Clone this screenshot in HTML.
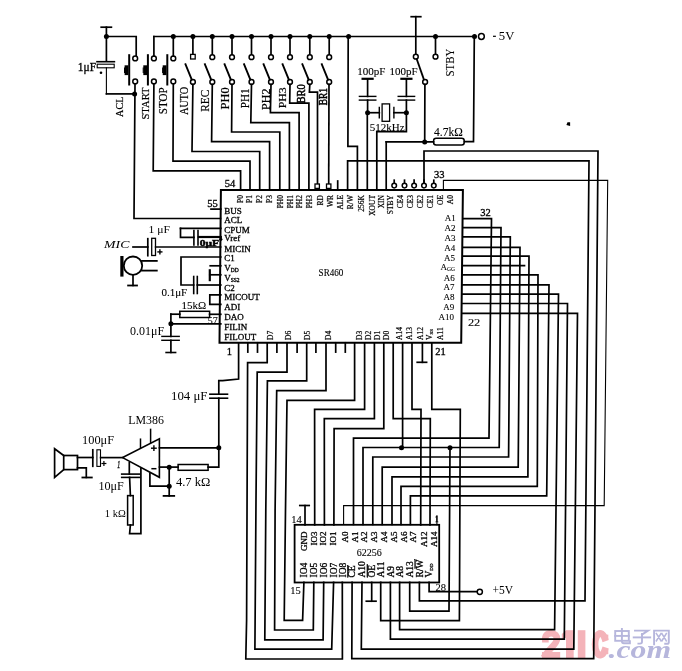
<!DOCTYPE html>
<html><head><meta charset="utf-8"><title>circuit</title>
<style>
html,body{margin:0;padding:0;background:#fff;}
body{width:682px;height:671px;overflow:hidden;}
svg{display:block;}
</style></head><body>
<svg width="682" height="671" viewBox="0 0 682 671">
<rect x="0" y="0" width="682" height="671" fill="#fff"/>
<g fill="none" stroke="#000" stroke-linecap="square" stroke-linejoin="miter">
<line x1="101.2" y1="27.2" x2="111.4" y2="27.2" stroke-width="1.7"/>
<line x1="106.4" y1="27.2" x2="106.4" y2="61.1" stroke-width="1.7"/>
<circle cx="106.4" cy="36.5" r="2.5" fill="#000" stroke="none"/>
<polyline points="106.4,36.5 136.2,36.5 136.2,56" stroke-width="1.7"/>
<line x1="97" y1="61.7" x2="114.4" y2="61.7" stroke-width="1.6"/>
<rect x="97.2" y="64.2" width="17" height="3.6" rx="0" fill="none" stroke-width="1.1"/>
<circle cx="101" cy="72.7" r="1.3" fill="#000" stroke="none"/>
<line x1="106.4" y1="67.8" x2="106.4" y2="93.9" stroke-width="1.1"/>
<line x1="106.4" y1="93.9" x2="134.6" y2="93.9" stroke-width="1.7"/>
<circle cx="134.6" cy="93.9" r="2.5" fill="#000" stroke="none"/>
<text x="77.8" y="71" font-size="11.5" text-anchor="start" font-family="Liberation Serif" fill="#000" stroke="#000" stroke-width="0.3" >1μF</text>
<circle cx="135.2" cy="58.4" r="2.4" fill="#fff" stroke-width="1.5"/>
<circle cx="135.2" cy="81.4" r="2.4" fill="#fff" stroke-width="1.5"/>
<line x1="129.2" y1="55.2" x2="129.2" y2="84.5" stroke-width="2"/>
<rect x="124.6" y="65.3" width="3.8" height="9.8" fill="#000" stroke="none"/>
<rect x="124" y="67.5" width="1" height="5.5" fill="#000" stroke="none"/>
<circle cx="153.9" cy="58.4" r="2.4" fill="#fff" stroke-width="1.5"/>
<circle cx="153.9" cy="81.4" r="2.4" fill="#fff" stroke-width="1.5"/>
<line x1="147.9" y1="55.2" x2="147.9" y2="84.5" stroke-width="2"/>
<rect x="143.3" y="65.3" width="3.8" height="9.8" fill="#000" stroke="none"/>
<rect x="142.7" y="67.5" width="1" height="5.5" fill="#000" stroke="none"/>
<circle cx="173.3" cy="58.4" r="2.4" fill="#fff" stroke-width="1.5"/>
<circle cx="173.3" cy="81.4" r="2.4" fill="#fff" stroke-width="1.5"/>
<line x1="167.3" y1="55.2" x2="167.3" y2="84.5" stroke-width="2"/>
<rect x="162.7" y="65.3" width="3.8" height="9.8" fill="#000" stroke="none"/>
<rect x="162.1" y="67.5" width="1" height="5.5" fill="#000" stroke="none"/>
<line x1="153.9" y1="36.5" x2="474.5" y2="36.5" stroke-width="1.7"/>
<line x1="153.9" y1="36.5" x2="153.9" y2="56" stroke-width="1.7"/>
<circle cx="173.3" cy="36.5" r="2.5" fill="#000" stroke="none"/>
<line x1="173.3" y1="36.5" x2="173.3" y2="56" stroke-width="1.7"/>
<circle cx="192.9" cy="36.5" r="2.5" fill="#000" stroke="none"/>
<line x1="192.9" y1="36.5" x2="192.9" y2="54.3" stroke-width="1.7"/>
<rect x="190.6" y="54.4" width="4.6" height="4.6" rx="0" fill="#fff" stroke-width="1.3"/>
<circle cx="192.9" cy="82" r="2.4" fill="#fff" stroke-width="1.5"/>
<line x1="185.5" y1="64.3" x2="191.7" y2="79.6" stroke-width="1.9"/>
<circle cx="212.3" cy="36.5" r="2.5" fill="#000" stroke="none"/>
<line x1="212.3" y1="36.5" x2="212.3" y2="54.3" stroke-width="1.7"/>
<circle cx="212.3" cy="57.2" r="2.4" fill="#fff" stroke-width="1.5"/>
<circle cx="212.3" cy="82" r="2.4" fill="#fff" stroke-width="1.5"/>
<line x1="204.9" y1="64.3" x2="211.1" y2="79.6" stroke-width="1.9"/>
<circle cx="232" cy="36.5" r="2.5" fill="#000" stroke="none"/>
<line x1="232" y1="36.5" x2="232" y2="54.3" stroke-width="1.7"/>
<circle cx="232" cy="57.2" r="2.4" fill="#fff" stroke-width="1.5"/>
<circle cx="232" cy="82" r="2.4" fill="#fff" stroke-width="1.5"/>
<line x1="224.6" y1="64.3" x2="230.8" y2="79.6" stroke-width="1.9"/>
<circle cx="251.5" cy="36.5" r="2.5" fill="#000" stroke="none"/>
<line x1="251.5" y1="36.5" x2="251.5" y2="54.3" stroke-width="1.7"/>
<circle cx="251.5" cy="57.2" r="2.4" fill="#fff" stroke-width="1.5"/>
<circle cx="251.5" cy="82" r="2.4" fill="#fff" stroke-width="1.5"/>
<line x1="244.1" y1="64.3" x2="250.3" y2="79.6" stroke-width="1.9"/>
<circle cx="271" cy="36.5" r="2.5" fill="#000" stroke="none"/>
<line x1="271" y1="36.5" x2="271" y2="54.3" stroke-width="1.7"/>
<circle cx="271" cy="57.2" r="2.4" fill="#fff" stroke-width="1.5"/>
<circle cx="271" cy="82" r="2.4" fill="#fff" stroke-width="1.5"/>
<line x1="263.6" y1="64.3" x2="269.8" y2="79.6" stroke-width="1.9"/>
<circle cx="290" cy="36.5" r="2.5" fill="#000" stroke="none"/>
<line x1="290" y1="36.5" x2="290" y2="54.3" stroke-width="1.7"/>
<circle cx="290" cy="57.2" r="2.4" fill="#fff" stroke-width="1.5"/>
<circle cx="290" cy="82" r="2.4" fill="#fff" stroke-width="1.5"/>
<line x1="282.6" y1="64.3" x2="288.8" y2="79.6" stroke-width="1.9"/>
<circle cx="309.8" cy="36.5" r="2.5" fill="#000" stroke="none"/>
<line x1="309.8" y1="36.5" x2="309.8" y2="54.3" stroke-width="1.7"/>
<circle cx="309.8" cy="57.2" r="2.4" fill="#fff" stroke-width="1.5"/>
<circle cx="309.8" cy="82" r="2.4" fill="#fff" stroke-width="1.5"/>
<line x1="302.4" y1="64.3" x2="308.6" y2="79.6" stroke-width="1.9"/>
<circle cx="329.2" cy="36.5" r="2.5" fill="#000" stroke="none"/>
<line x1="329.2" y1="36.5" x2="329.2" y2="54.3" stroke-width="1.7"/>
<circle cx="329.2" cy="57.2" r="2.4" fill="#fff" stroke-width="1.5"/>
<circle cx="329.2" cy="82" r="2.4" fill="#fff" stroke-width="1.5"/>
<line x1="321.8" y1="64.3" x2="328" y2="79.6" stroke-width="1.9"/>
<text x="123.3" y="116.9" font-size="10.6" font-family="Liberation Serif" fill="#000" stroke="#000" stroke-width="0.2" textLength="20.3" lengthAdjust="spacingAndGlyphs" transform="rotate(-90 123.3 116.9)" >ACL</text>
<text x="148.7" y="119.6" font-size="11.4" font-family="Liberation Serif" fill="#000" stroke="#000" stroke-width="0.2" textLength="32.2" lengthAdjust="spacingAndGlyphs" transform="rotate(-90 148.7 119.6)" >START</text>
<text x="167.2" y="114.2" font-size="12.4" font-family="Liberation Serif" fill="#000" stroke="#000" stroke-width="0.2" textLength="26.8" lengthAdjust="spacingAndGlyphs" transform="rotate(-90 167.2 114.2)" >STOP</text>
<text x="188" y="114.8" font-size="12.3" font-family="Liberation Serif" fill="#000" stroke="#000" stroke-width="0.2" textLength="28" lengthAdjust="spacingAndGlyphs" transform="rotate(-90 188 114.8)" >AUTO</text>
<text x="208.6" y="111.8" font-size="11.5" font-family="Liberation Serif" fill="#000" stroke="#000" stroke-width="0.2" textLength="22" lengthAdjust="spacingAndGlyphs" transform="rotate(-90 208.6 111.8)" >REC</text>
<text x="228.8" y="109.4" font-size="12.3" font-family="Liberation Serif" fill="#000" stroke="#000" stroke-width="0.2" textLength="22" lengthAdjust="spacingAndGlyphs" transform="rotate(-90 228.8 109.4)" >PH0</text>
<text x="249.1" y="108.2" font-size="12.3" font-family="Liberation Serif" fill="#000" stroke="#000" stroke-width="0.2" textLength="19.6" lengthAdjust="spacingAndGlyphs" transform="rotate(-90 249.1 108.2)" >PH1</text>
<text x="269.5" y="110" font-size="12.6" font-family="Liberation Serif" fill="#000" stroke="#000" stroke-width="0.2" textLength="21.4" lengthAdjust="spacingAndGlyphs" transform="rotate(-90 269.5 110)" >PH2</text>
<text x="286.2" y="108.3" font-size="10.6" font-family="Liberation Serif" fill="#000" stroke="#000" stroke-width="0.2" textLength="21" lengthAdjust="spacingAndGlyphs" transform="rotate(-90 286.2 108.3)" >PH3</text>
<text x="305.5" y="103.6" font-size="12.3" font-family="Liberation Serif" fill="#000" stroke="#000" stroke-width="0.5" textLength="19.4" lengthAdjust="spacingAndGlyphs" transform="rotate(-90 305.5 103.6)" >BR0</text>
<text x="327.4" y="105.2" font-size="12.3" font-family="Liberation Serif" fill="#000" stroke="#000" stroke-width="0.5" textLength="17.3" lengthAdjust="spacingAndGlyphs" transform="rotate(-90 327.4 105.2)" >BR1</text>
<circle cx="348.6" cy="36.5" r="2.5" fill="#000" stroke="none"/>
<polyline points="348.2,36.5 347.9,146.4 357.4,146.4 357.4,189.5" stroke-width="1.7"/>
<line x1="411.2" y1="16.7" x2="420.8" y2="16.7" stroke-width="1.7"/>
<line x1="415.8" y1="16.7" x2="415.8" y2="54.3" stroke-width="1.7"/>
<circle cx="415.8" cy="56.7" r="2.4" fill="#fff" stroke-width="1.5"/>
<circle cx="435.5" cy="36.5" r="2.5" fill="#000" stroke="none"/>
<line x1="435.5" y1="36.5" x2="435.5" y2="54.3" stroke-width="1.7"/>
<circle cx="435.5" cy="56.7" r="2.4" fill="#fff" stroke-width="1.5"/>
<line x1="416.8" y1="59.3" x2="424" y2="79.8" stroke-width="1.8"/>
<circle cx="425.1" cy="82" r="2.4" fill="#fff" stroke-width="1.5"/>
<line x1="424.9" y1="84.4" x2="424.7" y2="141.9" stroke-width="1.7"/>
<circle cx="424.7" cy="141.9" r="2.5" fill="#000" stroke="none"/>
<text x="453.7" y="76.5" font-size="12.9" font-family="Liberation Serif" fill="#000" stroke="#000" stroke-width="0.1" textLength="27.8" lengthAdjust="spacingAndGlyphs" transform="rotate(-90 453.7 76.5)" >STBY</text>
<circle cx="474.5" cy="36.5" r="2.5" fill="#000" stroke="none"/>
<circle cx="481.4" cy="36.5" r="2.9" fill="#fff" stroke-width="1.5"/>
<line x1="493.6" y1="36.3" x2="495.3" y2="36.3" stroke-width="1.2"/>
<text x="498.8" y="40.3" font-size="12.5" font-family="Liberation Serif" fill="#000" stroke="#000" stroke-width="0" textLength="15.5" lengthAdjust="spacingAndGlyphs" >5V</text>
<polyline points="474.3,36.5 473.5,141.6 464.4,141.6" stroke-width="1.7"/>
<rect x="433.6" y="138.2" width="30.6" height="6.8" rx="2.5" fill="none" stroke-width="1.5"/>
<line x1="386.2" y1="141.9" x2="433.6" y2="141.9" stroke-width="1.7"/>
<text x="434" y="135.6" font-size="11.5" text-anchor="start" font-family="Liberation Serif" fill="#000" stroke="#000" stroke-width="0.1" >4.7kΩ</text>
<text x="357.3" y="75" font-size="11" font-family="Liberation Serif" fill="#000" stroke="#000" stroke-width="0.1" textLength="28.2" lengthAdjust="spacingAndGlyphs" >100pF</text>
<text x="389.6" y="75" font-size="11" font-family="Liberation Serif" fill="#000" stroke="#000" stroke-width="0.1" textLength="28.1" lengthAdjust="spacingAndGlyphs" >100pF</text>
<line x1="362.6" y1="78.8" x2="372.6" y2="78.8" stroke-width="2.2"/>
<line x1="367.6" y1="78.9" x2="367.6" y2="96.4" stroke-width="1.7"/>
<line x1="359.4" y1="96.4" x2="375.8" y2="96.4" stroke-width="1.4"/>
<line x1="359.4" y1="100.1" x2="375.8" y2="100.1" stroke-width="1.4"/>
<line x1="367.6" y1="100.1" x2="367.6" y2="112.7" stroke-width="1.7"/>
<circle cx="367.6" cy="112.7" r="2.5" fill="#000" stroke="none"/>
<line x1="401.4" y1="78.8" x2="411.4" y2="78.8" stroke-width="2.2"/>
<line x1="406.4" y1="78.9" x2="406.4" y2="96.4" stroke-width="1.7"/>
<line x1="398.2" y1="96.4" x2="414.6" y2="96.4" stroke-width="1.4"/>
<line x1="398.2" y1="100.1" x2="414.6" y2="100.1" stroke-width="1.4"/>
<line x1="406.4" y1="100.1" x2="406.4" y2="112.7" stroke-width="1.7"/>
<circle cx="406.4" cy="112.7" r="2.5" fill="#000" stroke="none"/>
<line x1="367.6" y1="112.7" x2="379.3" y2="112.7" stroke-width="1.7"/>
<line x1="379.3" y1="107.4" x2="379.3" y2="117.9" stroke-width="1.4"/>
<rect x="382.1" y="103.9" width="7.5" height="17.4" rx="0" fill="none" stroke-width="1.3"/>
<line x1="393.9" y1="107.4" x2="393.9" y2="117.9" stroke-width="1.4"/>
<line x1="393.9" y1="112.7" x2="406.4" y2="112.7" stroke-width="1.7"/>
<line x1="367.3" y1="112.7" x2="367.3" y2="189.5" stroke-width="1.7"/>
<polyline points="406.4,112.7 406.4,131.7 376.8,131.7 376.8,189.5" stroke-width="1.7"/>
<text x="369.8" y="131.4" font-size="11" text-anchor="start" font-family="Liberation Serif" fill="#000" stroke="#000" stroke-width="0.1" >512kHz</text>
<polyline points="135,84 134,218.5 220.5,218.5" stroke-width="1.7"/>
<polyline points="153.9,84 153.2,170.9 240.6,170.9 240.6,189.5" stroke-width="1.7"/>
<polyline points="173.3,84 173,161.2 250,161.2 250,189.5" stroke-width="1.7"/>
<polyline points="192.9,84.4 192,151.5 259.7,151.5 259.7,189.5" stroke-width="1.7"/>
<polyline points="212.3,84.4 211.6,141.7 269.6,141.7 269.6,189.5" stroke-width="1.7"/>
<polyline points="232,84.4 231.6,132 279.8,132 279.8,189.5" stroke-width="1.7"/>
<polyline points="251.5,84.4 250.8,122.6 289.4,122.6 289.4,189.5" stroke-width="1.7"/>
<polyline points="271,84.4 270.4,112.7 299.1,112.7 299.1,189.5" stroke-width="1.7"/>
<polyline points="290,84.4 289.7,103.2 308.9,103.2 308.9,189.5" stroke-width="1.7"/>
<polyline points="309.8,84.4 309.4,92.2 317.5,92.2 317.5,183.8" stroke-width="1.7"/>
<line x1="329" y1="84.4" x2="328.7" y2="183.8" stroke-width="1.7"/>
<rect x="315" y="184" width="4.4" height="4.4" rx="0" fill="#fff" stroke-width="1.3"/>
<rect x="326.5" y="184" width="4.4" height="4.4" rx="0" fill="#fff" stroke-width="1.3"/>
<line x1="337.7" y1="181" x2="337.7" y2="189.5" stroke-width="1.7"/>
<polyline points="347.6,189.5 347.6,160.8 589,160.8 585,600.9 419.4,600.9 419.4,582.4" stroke-width="1.7"/>
<line x1="386.2" y1="141.9" x2="386.2" y2="189.5" stroke-width="1.7"/>
<line x1="394.2" y1="180.2" x2="394.2" y2="184" stroke-width="1.7"/>
<circle cx="394.2" cy="185.6" r="2.3" fill="#fff" stroke-width="1.5"/>
<line x1="404.5" y1="180.2" x2="404.5" y2="184" stroke-width="1.7"/>
<circle cx="404.5" cy="185.6" r="2.3" fill="#fff" stroke-width="1.5"/>
<line x1="414.1" y1="180.2" x2="414.1" y2="184" stroke-width="1.7"/>
<circle cx="414.1" cy="185.6" r="2.3" fill="#fff" stroke-width="1.5"/>
<line x1="424" y1="180.2" x2="424" y2="184" stroke-width="1.7"/>
<circle cx="424" cy="185.6" r="2.3" fill="#fff" stroke-width="1.5"/>
<line x1="433.8" y1="180.2" x2="433.8" y2="184" stroke-width="1.7"/>
<circle cx="433.8" cy="185.6" r="2.3" fill="#fff" stroke-width="1.5"/>
<polyline points="424,183.2 424,151 598,151 593.7,658.6 351.8,658.6 352.1,582.4" stroke-width="1.7"/>
<polyline points="443.4,189.5 443.4,180.4 607.7,180.4 604.2,505.6 343.6,505.6 343.6,524.3" stroke-width="1.1"/>
<polygon points="220.9,190.0 462.9,189.9 461.2,342.8 219.5,342.8" fill="none" stroke-width="2.0"/>
<text x="224.8" y="186.9" font-size="10.5" text-anchor="start" font-family="Liberation Serif" fill="#000" stroke="#000" stroke-width="0.3" >54</text>
<text x="207.2" y="207" font-size="10.5" text-anchor="start" font-family="Liberation Serif" fill="#000" stroke="#000" stroke-width="0.3" >55</text>
<line x1="211" y1="209.1" x2="220.8" y2="209.1" stroke-width="1.7"/>
<text x="434" y="178.3" font-size="10.5" text-anchor="start" font-family="Liberation Serif" fill="#000" stroke="#000" stroke-width="0.3" >33</text>
<text x="480.2" y="215.8" font-size="10.5" text-anchor="start" font-family="Liberation Serif" fill="#000" stroke="#000" stroke-width="0.3" >32</text>
<text x="467.9" y="325.8" font-size="11" font-family="Liberation Serif" fill="#000" stroke="#000" stroke-width="0.1" textLength="12.4" lengthAdjust="spacingAndGlyphs" >22</text>
<text x="435.3" y="355.3" font-size="10.5" text-anchor="start" font-family="Liberation Serif" fill="#000" stroke="#000" stroke-width="0.3" >21</text>
<text x="226.8" y="354.9" font-size="10.5" text-anchor="start" font-family="Liberation Serif" fill="#000" stroke="#000" stroke-width="0.3" >1</text>
<text x="224.2" y="213.7" font-size="9" text-anchor="start" font-family="Liberation Serif" fill="#000" stroke="#000" stroke-width="0.3" >BUS</text>
<text x="224.2" y="223.3" font-size="9" text-anchor="start" font-family="Liberation Serif" fill="#000" stroke="#000" stroke-width="0.3" >ACL</text>
<text x="224.2" y="233" font-size="9" text-anchor="start" font-family="Liberation Serif" fill="#000" stroke="#000" stroke-width="0.3" >CPUM</text>
<text x="224.2" y="241" font-size="9" text-anchor="start" font-family="Liberation Serif" fill="#000" stroke="#000" stroke-width="0.3" >Vref</text>
<text x="224.2" y="251.8" font-size="9" text-anchor="start" font-family="Liberation Serif" fill="#000" stroke="#000" stroke-width="0.3" >MICIN</text>
<text x="224.2" y="261.2" font-size="9" text-anchor="start" font-family="Liberation Serif" fill="#000" stroke="#000" stroke-width="0.3" >C1</text>
<text x="224.2" y="270.8" font-size="9" text-anchor="start" font-family="Liberation Serif" fill="#000" stroke="#000" stroke-width="0.3" >V<tspan font-size="5.5" dy="1.5">DD</tspan></text>
<text x="224.2" y="280.8" font-size="9" text-anchor="start" font-family="Liberation Serif" fill="#000" stroke="#000" stroke-width="0.3" >V<tspan font-size="5.5" dy="1.5">SS2</tspan></text>
<text x="224.2" y="290.8" font-size="9" text-anchor="start" font-family="Liberation Serif" fill="#000" stroke="#000" stroke-width="0.3" >C2</text>
<text x="224.2" y="300.2" font-size="9" text-anchor="start" font-family="Liberation Serif" fill="#000" stroke="#000" stroke-width="0.3" >MICOUT</text>
<text x="224.2" y="309.8" font-size="9" text-anchor="start" font-family="Liberation Serif" fill="#000" stroke="#000" stroke-width="0.3" >ADI</text>
<text x="224.2" y="319.8" font-size="9" text-anchor="start" font-family="Liberation Serif" fill="#000" stroke="#000" stroke-width="0.3" >DAO</text>
<text x="224.2" y="330" font-size="9" text-anchor="start" font-family="Liberation Serif" fill="#000" stroke="#000" stroke-width="0.3" >FILIN</text>
<text x="224.2" y="340" font-size="9" text-anchor="start" font-family="Liberation Serif" fill="#000" stroke="#000" stroke-width="0.3" >FILOUT</text>
<text x="455.8" y="221.3" font-size="9" text-anchor="end" font-family="Liberation Serif" fill="#000" stroke="#000" stroke-width="0.1" >A1</text>
<text x="455.6" y="231.1" font-size="9" text-anchor="end" font-family="Liberation Serif" fill="#000" stroke="#000" stroke-width="0.1" >A2</text>
<text x="455.4" y="241.2" font-size="9" text-anchor="end" font-family="Liberation Serif" fill="#000" stroke="#000" stroke-width="0.1" >A3</text>
<text x="455.2" y="251" font-size="9" text-anchor="end" font-family="Liberation Serif" fill="#000" stroke="#000" stroke-width="0.1" >A4</text>
<text x="455.1" y="260.8" font-size="9" text-anchor="end" font-family="Liberation Serif" fill="#000" stroke="#000" stroke-width="0.1" >A5</text>
<text x="454.9" y="269.8" font-size="9" text-anchor="end" font-family="Liberation Serif" fill="#000" stroke="#000" stroke-width="0.1" >A<tspan font-size="5.5" dy="1.5">GG</tspan></text>
<text x="454.7" y="280.7" font-size="9" text-anchor="end" font-family="Liberation Serif" fill="#000" stroke="#000" stroke-width="0.1" >A6</text>
<text x="454.5" y="290.3" font-size="9" text-anchor="end" font-family="Liberation Serif" fill="#000" stroke="#000" stroke-width="0.1" >A7</text>
<text x="454.4" y="300.1" font-size="9" text-anchor="end" font-family="Liberation Serif" fill="#000" stroke="#000" stroke-width="0.1" >A8</text>
<text x="454.2" y="309.9" font-size="9" text-anchor="end" font-family="Liberation Serif" fill="#000" stroke="#000" stroke-width="0.1" >A9</text>
<text x="454" y="319.9" font-size="9" text-anchor="end" font-family="Liberation Serif" fill="#000" stroke="#000" stroke-width="0.1" >A10</text>
<text x="242.6" y="195" font-size="7.5" text-anchor="end" font-family="Liberation Serif" fill="#000" stroke="#000" stroke-width="0.2" transform="rotate(-90 242.6 195)" >P0</text>
<text x="252.2" y="195" font-size="7.5" text-anchor="end" font-family="Liberation Serif" fill="#000" stroke="#000" stroke-width="0.2" transform="rotate(-90 252.2 195)" >P1</text>
<text x="262.1" y="195" font-size="7.5" text-anchor="end" font-family="Liberation Serif" fill="#000" stroke="#000" stroke-width="0.2" transform="rotate(-90 262.1 195)" >P2</text>
<text x="272.1" y="195" font-size="7.5" text-anchor="end" font-family="Liberation Serif" fill="#000" stroke="#000" stroke-width="0.2" transform="rotate(-90 272.1 195)" >P3</text>
<text x="283" y="195" font-size="7.5" text-anchor="end" font-family="Liberation Serif" fill="#000" stroke="#000" stroke-width="0.2" transform="rotate(-90 283 195)" >PH0</text>
<text x="292.6" y="195" font-size="7.5" text-anchor="end" font-family="Liberation Serif" fill="#000" stroke="#000" stroke-width="0.2" transform="rotate(-90 292.6 195)" >PH1</text>
<text x="302.4" y="195" font-size="7.5" text-anchor="end" font-family="Liberation Serif" fill="#000" stroke="#000" stroke-width="0.2" transform="rotate(-90 302.4 195)" >PH2</text>
<text x="312.1" y="195" font-size="7.5" text-anchor="end" font-family="Liberation Serif" fill="#000" stroke="#000" stroke-width="0.2" transform="rotate(-90 312.1 195)" >PH3</text>
<text x="322.5" y="195" font-size="7.5" text-anchor="end" font-family="Liberation Serif" fill="#000" stroke="#000" stroke-width="0.2" transform="rotate(-90 322.5 195)" >RD</text>
<text x="332.7" y="195" font-size="7.5" text-anchor="end" font-family="Liberation Serif" fill="#000" stroke="#000" stroke-width="0.2" transform="rotate(-90 332.7 195)" >WR</text>
<text x="343" y="195" font-size="7.5" text-anchor="end" font-family="Liberation Serif" fill="#000" stroke="#000" stroke-width="0.2" transform="rotate(-90 343 195)" >ALE</text>
<text x="352.5" y="195" font-size="7.5" text-anchor="end" font-family="Liberation Serif" fill="#000" stroke="#000" stroke-width="0.2" transform="rotate(-90 352.5 195)" >R/W</text>
<text x="363.6" y="195" font-size="7.5" text-anchor="end" font-family="Liberation Serif" fill="#000" stroke="#000" stroke-width="0.2" transform="rotate(-90 363.6 195)" >256K</text>
<text x="374.8" y="195" font-size="7.5" text-anchor="end" font-family="Liberation Serif" fill="#000" stroke="#000" stroke-width="0.2" transform="rotate(-90 374.8 195)" >XOUT</text>
<text x="383.6" y="195" font-size="7.5" text-anchor="end" font-family="Liberation Serif" fill="#000" stroke="#000" stroke-width="0.2" transform="rotate(-90 383.6 195)" >XIN</text>
<text x="393.1" y="195" font-size="7.5" text-anchor="end" font-family="Liberation Serif" fill="#000" stroke="#000" stroke-width="0.2" transform="rotate(-90 393.1 195)" >STBY</text>
<text x="403.4" y="195" font-size="7.5" text-anchor="end" font-family="Liberation Serif" fill="#000" stroke="#000" stroke-width="0.2" transform="rotate(-90 403.4 195)" >CE4</text>
<text x="412.9" y="195" font-size="7.5" text-anchor="end" font-family="Liberation Serif" fill="#000" stroke="#000" stroke-width="0.2" transform="rotate(-90 412.9 195)" >CE3</text>
<text x="423.2" y="195" font-size="7.5" text-anchor="end" font-family="Liberation Serif" fill="#000" stroke="#000" stroke-width="0.2" transform="rotate(-90 423.2 195)" >CE2</text>
<text x="432.7" y="195" font-size="7.5" text-anchor="end" font-family="Liberation Serif" fill="#000" stroke="#000" stroke-width="0.2" transform="rotate(-90 432.7 195)" >CE1</text>
<text x="443" y="195" font-size="7.5" text-anchor="end" font-family="Liberation Serif" fill="#000" stroke="#000" stroke-width="0.2" transform="rotate(-90 443 195)" >OE</text>
<text x="453.2" y="195" font-size="7.5" text-anchor="end" font-family="Liberation Serif" fill="#000" stroke="#000" stroke-width="0.2" transform="rotate(-90 453.2 195)" >A0</text>
<text x="272.8" y="340" font-size="7.5" text-anchor="start" font-family="Liberation Serif" fill="#000" stroke="#000" stroke-width="0.2" transform="rotate(-90 272.8 340)" >D7</text>
<text x="290.8" y="340" font-size="7.5" text-anchor="start" font-family="Liberation Serif" fill="#000" stroke="#000" stroke-width="0.2" transform="rotate(-90 290.8 340)" >D6</text>
<text x="310.2" y="340" font-size="7.5" text-anchor="start" font-family="Liberation Serif" fill="#000" stroke="#000" stroke-width="0.2" transform="rotate(-90 310.2 340)" >D5</text>
<text x="330.8" y="340" font-size="7.5" text-anchor="start" font-family="Liberation Serif" fill="#000" stroke="#000" stroke-width="0.2" transform="rotate(-90 330.8 340)" >D4</text>
<text x="361.7" y="340" font-size="7.5" text-anchor="start" font-family="Liberation Serif" fill="#000" stroke="#000" stroke-width="0.2" transform="rotate(-90 361.7 340)" >D3</text>
<text x="370.8" y="340" font-size="7.5" text-anchor="start" font-family="Liberation Serif" fill="#000" stroke="#000" stroke-width="0.2" transform="rotate(-90 370.8 340)" >D2</text>
<text x="379.8" y="340" font-size="7.5" text-anchor="start" font-family="Liberation Serif" fill="#000" stroke="#000" stroke-width="0.2" transform="rotate(-90 379.8 340)" >D1</text>
<text x="389.3" y="340" font-size="7.5" text-anchor="start" font-family="Liberation Serif" fill="#000" stroke="#000" stroke-width="0.2" transform="rotate(-90 389.3 340)" >D0</text>
<text x="401.7" y="340" font-size="7.5" text-anchor="start" font-family="Liberation Serif" fill="#000" stroke="#000" stroke-width="0.2" transform="rotate(-90 401.7 340)" >A14</text>
<text x="412.2" y="340" font-size="7.5" text-anchor="start" font-family="Liberation Serif" fill="#000" stroke="#000" stroke-width="0.2" transform="rotate(-90 412.2 340)" >A13</text>
<text x="422.7" y="340" font-size="7.5" text-anchor="start" font-family="Liberation Serif" fill="#000" stroke="#000" stroke-width="0.2" transform="rotate(-90 422.7 340)" >A12</text>
<text x="432.2" y="340" font-size="7.5" text-anchor="start" font-family="Liberation Serif" fill="#000" stroke="#000" stroke-width="0.2" transform="rotate(-90 432.2 340)" >V<tspan font-size="5" dy="1">SS</tspan></text>
<text x="442.7" y="340" font-size="7.5" text-anchor="start" font-family="Liberation Serif" fill="#000" stroke="#000" stroke-width="0.2" transform="rotate(-90 442.7 340)" >A11</text>
<text x="318.6" y="275.7" font-size="9.5" font-family="Liberation Serif" fill="#000" stroke="#000" stroke-width="0.1" textLength="24.8" lengthAdjust="spacingAndGlyphs" >SR460</text>
<polyline points="180.5,228.3 220.8,228.3" stroke-width="1.7"/>
<polyline points="180.5,228.3 180.5,237.3 193.9,237.3" stroke-width="1.7"/>
<line x1="193.9" y1="230.6" x2="193.9" y2="244.9" stroke-width="1.6"/>
<line x1="198" y1="230.6" x2="198" y2="244.9" stroke-width="1.6"/>
<line x1="198.8" y1="237" x2="220.8" y2="237" stroke-width="2.2"/>
<circle cx="220.8" cy="239.3" r="1.6" fill="#000" stroke="none"/>
<text x="199.7" y="246.4" font-size="9" font-family="Liberation Serif" fill="#000" stroke="#000" stroke-width="0.5" textLength="19.3" lengthAdjust="spacingAndGlyphs" font-weight="bold">0μF</text>
<text x="104.1" y="247.5" font-size="11" font-family="Liberation Serif" fill="#000" stroke="#000" stroke-width="0" textLength="25.3" lengthAdjust="spacingAndGlyphs" font-style="italic">MIC</text>
<line x1="133" y1="247" x2="147.8" y2="247" stroke-width="1.7"/>
<line x1="147.8" y1="238.7" x2="147.8" y2="255.7" stroke-width="1.7"/>
<rect x="151.7" y="238.3" width="3.8" height="17.2" rx="0" fill="none" stroke-width="1.3"/>
<line x1="158" y1="251.9" x2="161.8" y2="251.9" stroke-width="1.4"/>
<line x1="159.9" y1="250" x2="159.9" y2="253.8" stroke-width="1.4"/>
<line x1="155.5" y1="247" x2="220.8" y2="247" stroke-width="1.4"/>
<text x="148.6" y="232.6" font-size="11" font-family="Liberation Serif" fill="#000" stroke="#000" stroke-width="0" textLength="21.5" lengthAdjust="spacingAndGlyphs" >1 μF</text>
<circle cx="133" cy="265.7" r="9.2" fill="#fff" stroke-width="1.8"/>
<rect x="120.3" y="256" width="3.2" height="20.6" fill="#000" stroke="none"/>
<line x1="142" y1="260.9" x2="156.8" y2="260.9" stroke-width="1.8"/>
<line x1="142" y1="270.6" x2="156.8" y2="270.6" stroke-width="1.8"/>
<line x1="133" y1="275" x2="133" y2="285.5" stroke-width="1.7"/>
<line x1="128.1" y1="285.5" x2="137" y2="285.5" stroke-width="1.8"/>
<polyline points="220.8,257 181,257 181,285 193.7,285" stroke-width="1.7"/>
<line x1="193.7" y1="276.5" x2="193.7" y2="293.5" stroke-width="1.6"/>
<line x1="197.3" y1="276.5" x2="197.3" y2="293.5" stroke-width="1.6"/>
<line x1="197.3" y1="285" x2="220.8" y2="285" stroke-width="1.7"/>
<text x="161.4" y="296" font-size="11" text-anchor="start" font-family="Liberation Serif" fill="#000" stroke="#000" stroke-width="0.1" >0.1μF</text>
<line x1="210.2" y1="265.8" x2="220.8" y2="265.8" stroke-width="1.7"/>
<line x1="209.8" y1="274.8" x2="220.8" y2="274.8" stroke-width="1.7"/>
<line x1="209.8" y1="270.3" x2="209.8" y2="280.1" stroke-width="2.2"/>
<polyline points="220.8,294.9 209.8,294.9 209.8,304.4 220.8,304.4" stroke-width="1.7"/>
<text x="181.5" y="309.4" font-size="11" text-anchor="start" font-family="Liberation Serif" fill="#000" stroke="#000" stroke-width="0.1" >15kΩ</text>
<rect x="179.8" y="311.3" width="29.8" height="6.2" rx="0" fill="none" stroke-width="1.5"/>
<line x1="170.9" y1="314.2" x2="179.8" y2="314.2" stroke-width="1.7"/>
<line x1="209.6" y1="314.3" x2="220.8" y2="314.3" stroke-width="1.7"/>
<line x1="170.9" y1="314.2" x2="170.9" y2="336.4" stroke-width="1.7"/>
<circle cx="170.9" cy="323.8" r="2.5" fill="#000" stroke="none"/>
<line x1="170.9" y1="323.8" x2="220.8" y2="323.8" stroke-width="1.7"/>
<text x="207.8" y="323.6" font-size="10" text-anchor="start" font-family="Liberation Serif" fill="#000" stroke="#000" stroke-width="0.1" >57</text>
<line x1="161.9" y1="336.4" x2="179.2" y2="336.4" stroke-width="1.4"/>
<line x1="161.9" y1="340.3" x2="179.2" y2="340.3" stroke-width="1.4"/>
<line x1="170.9" y1="340.3" x2="170.9" y2="352.5" stroke-width="1.7"/>
<line x1="166.1" y1="352.5" x2="175.6" y2="352.5" stroke-width="1.6"/>
<text x="130" y="335" font-size="12" text-anchor="start" font-family="Liberation Serif" fill="#000" stroke="#000" stroke-width="0" >0.01μF</text>
<polyline points="238.6,342.8 238.6,379 222.7,380.7 218.8,380.7 218.8,394.2" stroke-width="1.7"/>
<polyline points="267.2,342.8 267.2,362.6 247.6,362.6 246.6,620 245.8,659 342.4,659 342.3,582.4" stroke-width="1.7"/>
<polyline points="287,342.8 287,372.2 257.2,372.2 256,500 254.9,649.2 331.7,649.2 333.6,582.4" stroke-width="1.7"/>
<polyline points="306.7,342.8 306.7,380.9 267.4,380.9 265.8,510 264.8,639.8 323.1,639.8 323.7,582.4" stroke-width="1.7"/>
<polyline points="326,342.8 326,390.6 276.7,390.6 275.1,510 274.6,630 313.3,630 313.8,582.4" stroke-width="1.7"/>
<polyline points="354.6,342.8 354.6,400.4 287,400.4 285.5,510 284.2,620.3 302.6,620.3 303.9,582.4" stroke-width="1.7"/>
<line x1="247.8" y1="342.8" x2="247.8" y2="352.1" stroke-width="1.7"/>
<line x1="257.5" y1="342.8" x2="257.5" y2="352.1" stroke-width="1.7"/>
<line x1="276.9" y1="342.8" x2="276.9" y2="352.1" stroke-width="1.7"/>
<line x1="297.1" y1="342.8" x2="297.1" y2="352.1" stroke-width="1.7"/>
<line x1="315.9" y1="342.8" x2="315.9" y2="352.1" stroke-width="1.7"/>
<line x1="335.7" y1="342.8" x2="335.7" y2="352.1" stroke-width="1.7"/>
<line x1="345.3" y1="342.8" x2="345.3" y2="352.1" stroke-width="1.7"/>
<polyline points="364.6,342.8 364.6,409.3 314.6,409.3 314.7,524.8" stroke-width="1.7"/>
<polyline points="374.4,342.8 374.4,418.7 324.3,418.7 324.4,524.8" stroke-width="1.7"/>
<polyline points="383.8,342.8 383.8,428.6 334.1,428.6 333.9,524.8" stroke-width="1.7"/>
<polyline points="393.2,342.8 393.2,418.7 430.3,418.7 430,524.8" stroke-width="1.7"/>
<polyline points="402.6,342.8 402.6,447.7" stroke-width="1.7"/>
<circle cx="401.5" cy="447.7" r="2.5" fill="#000" stroke="none"/>
<polyline points="412,342.8 412,409.3 421,409.3 420.7,524.8" stroke-width="1.7"/>
<line x1="422.4" y1="342.8" x2="422.4" y2="362.3" stroke-width="1.7"/>
<line x1="417.2" y1="362.3" x2="426.6" y2="362.3" stroke-width="1.7"/>
<polyline points="431.8,342.8 431.8,409.3 460.3,409.3 459.4,620.6 380.7,620.6 380.7,582.4" stroke-width="1.7"/>
<circle cx="450" cy="447.7" r="2.5" fill="#000" stroke="none"/>
<polyline points="450,447.7 449,611.1 409.7,611.1 409.7,582.4" stroke-width="1.7"/>
<line x1="209.9" y1="394.2" x2="227.5" y2="394.2" stroke-width="1.6"/>
<line x1="209.9" y1="398.2" x2="227.5" y2="398.2" stroke-width="1.6"/>
<line x1="218.8" y1="398.2" x2="218.8" y2="447.7" stroke-width="1.7"/>
<circle cx="218.8" cy="447.7" r="2.5" fill="#000" stroke="none"/>
<line x1="218.8" y1="447.9" x2="159.5" y2="447.9" stroke-width="1.7"/>
<polyline points="218.8,447.7 218.8,467.1 208.1,467.1" stroke-width="1.7"/>
<rect x="178.1" y="464.5" width="30" height="5.8" rx="0" fill="none" stroke-width="1.5"/>
<line x1="178.1" y1="467.1" x2="159.5" y2="467.1" stroke-width="1.7"/>
<circle cx="169.2" cy="467.2" r="2.5" fill="#000" stroke="none"/>
<line x1="169.2" y1="467.2" x2="169.2" y2="495.9" stroke-width="1.7"/>
<circle cx="169.2" cy="486.2" r="2.5" fill="#000" stroke="none"/>
<line x1="163.6" y1="495.9" x2="174.2" y2="495.9" stroke-width="1.8"/>
<polyline points="149.9,473.5 149.9,486.2 169.2,486.2" stroke-width="1.7"/>
<text x="171" y="400" font-size="12" font-family="Liberation Serif" fill="#000" stroke="#000" stroke-width="0" textLength="36.5" lengthAdjust="spacingAndGlyphs" >104 μF</text>
<text x="175.9" y="486.2" font-size="12" font-family="Liberation Serif" fill="#000" stroke="#000" stroke-width="0" textLength="34.4" lengthAdjust="spacingAndGlyphs" >4.7 kΩ</text>
<text x="128.3" y="424" font-size="12" font-family="Liberation Serif" fill="#000" stroke="#000" stroke-width="0" textLength="35.6" lengthAdjust="spacingAndGlyphs" >LM386</text>
<polygon points="159.4,438.8 159.4,477.3 122.6,457.6" fill="none" stroke-width="1.6"/>
<line x1="151.7" y1="448.2" x2="156.1" y2="448.2" stroke-width="1.4"/>
<line x1="153.9" y1="446" x2="153.9" y2="450.4" stroke-width="1.4"/>
<line x1="152.1" y1="468.7" x2="155.7" y2="468.7" stroke-width="1.5"/>
<line x1="150.6" y1="429.4" x2="150.6" y2="442.6" stroke-width="1.5"/>
<line x1="140.5" y1="439.2" x2="140.5" y2="447.4" stroke-width="1.5"/>
<text x="117.3" y="468.4" font-size="9.5" font-family="Liberation Serif" fill="#000" stroke="#000" stroke-width="0.3" textLength="3" lengthAdjust="spacingAndGlyphs" font-style="italic">1</text>
<line x1="129.3" y1="462.8" x2="129.3" y2="474.1" stroke-width="1.7"/>
<line x1="121.7" y1="474.1" x2="139.6" y2="474.1" stroke-width="1.6"/>
<line x1="121.7" y1="477.4" x2="139.6" y2="477.4" stroke-width="1.6"/>
<line x1="129.6" y1="477.4" x2="130.4" y2="495.6" stroke-width="1.7"/>
<rect x="127.6" y="495.6" width="5.6" height="29.4" rx="0" fill="none" stroke-width="1.5"/>
<polyline points="130.4,525 129.6,533.6 140.9,533.6 140.9,468.6" stroke-width="1.7"/>
<text x="98.4" y="490.2" font-size="12" font-family="Liberation Serif" fill="#000" stroke="#000" stroke-width="0" textLength="25.4" lengthAdjust="spacingAndGlyphs" >10μF</text>
<text x="104.8" y="516.5" font-size="11" font-family="Liberation Serif" fill="#000" stroke="#000" stroke-width="0" textLength="21" lengthAdjust="spacingAndGlyphs" >1 kΩ</text>
<line x1="122.6" y1="457.6" x2="100.6" y2="457.6" stroke-width="1.7"/>
<rect x="96.9" y="449.8" width="3.6" height="16.6" rx="0" fill="none" stroke-width="1.1"/>
<line x1="92.8" y1="449.8" x2="92.8" y2="466.3" stroke-width="1.7"/>
<line x1="77.5" y1="457.5" x2="92.8" y2="457.5" stroke-width="1.7"/>
<line x1="102" y1="463.5" x2="105.8" y2="463.5" stroke-width="1.2"/>
<line x1="103.9" y1="461.6" x2="103.9" y2="465.4" stroke-width="1.2"/>
<text x="82.1" y="444.3" font-size="11.5" font-family="Liberation Serif" fill="#000" stroke="#000" stroke-width="0" textLength="32" lengthAdjust="spacingAndGlyphs" >100μF</text>
<rect x="63.7" y="455.5" width="13.8" height="14.1" rx="0" fill="none" stroke-width="1.7"/>
<polyline points="63.7,455.5 54.6,448.7 54.6,477.3 63.7,469.6" fill="none" stroke-width="1.7"/>
<polyline points="77.5,467.9 86.3,467.9 86.3,477.5" stroke-width="1.7"/>
<line x1="82.4" y1="477.5" x2="91.8" y2="477.5" stroke-width="1.8"/>
<polyline points="462.9,218.6 491.5,218.6 489,438.2 353.5,438.2 353.5,524.3" stroke-width="1.7"/>
<polyline points="462.9,227.6 501,227.6 499.2,447.5 363,447.5 363,524.3" stroke-width="1.7"/>
<polyline points="462.9,236.8 510.3,236.8 508.6,457 372.8,457 372.8,524.3" stroke-width="1.7"/>
<polyline points="462.9,247.4 520,247.4 518.2,467.2 382.2,467.2 382.2,524.3" stroke-width="1.7"/>
<polyline points="462.9,256.2 529,256.2 527.9,476.8 392,476.8 392,524.3" stroke-width="1.7"/>
<polyline points="462.9,274.9 538,274.9 537.3,486.3 401,486.3 401,524.3" stroke-width="1.7"/>
<polyline points="462.9,284.9 549,284.9 546.7,495.9 410.4,495.9 410.4,524.3" stroke-width="1.7"/>
<line x1="462.9" y1="265.6" x2="524.5" y2="265.6" stroke-width="1.7"/>
<polyline points="462.9,294.2 558.5,294.2 554.6,629.6 399.6,629.6 399.6,582.4" stroke-width="1.7"/>
<polyline points="462.9,303.5 567.5,303.5 564.3,639.1 390.4,639.1 390.4,582.4" stroke-width="1.7"/>
<polyline points="462.9,313.3 577.5,313.3 573.8,649.2 361.3,649.2 362,582.4" stroke-width="1.7"/>
<polyline points="429.1,582.4 429.1,591.7 477.1,591.7" stroke-width="1.7"/>
<circle cx="479.8" cy="591.8" r="2.6" fill="#fff" stroke-width="1.5"/>
<text x="492.5" y="594" font-size="11.5" text-anchor="start" font-family="Liberation Serif" fill="#000" stroke="#000" stroke-width="0" >+5V</text>
<line x1="371.7" y1="582.4" x2="371.7" y2="601.2" stroke-width="1.7"/>
<line x1="366.3" y1="601.2" x2="376" y2="601.2" stroke-width="1.7"/>
<rect x="294.6" y="524.8" width="144.6" height="57.7" rx="0" fill="none" stroke-width="1.8"/>
<line x1="299.8" y1="505.5" x2="309.2" y2="505.5" stroke-width="1.7"/>
<line x1="305" y1="505.5" x2="305" y2="524.8" stroke-width="1.7"/>
<line x1="436.9" y1="515.7" x2="436.9" y2="524.8" stroke-width="1.1"/>
<text x="291.3" y="523.3" font-size="10.5" text-anchor="start" font-family="Liberation Serif" fill="#000" stroke="#000" stroke-width="0.1" >14</text>
<text x="290.2" y="593.8" font-size="10.5" text-anchor="start" font-family="Liberation Serif" fill="#000" stroke="#000" stroke-width="0.1" >15</text>
<text x="435.5" y="591" font-size="10.5" text-anchor="start" font-family="Liberation Serif" fill="#000" stroke="#000" stroke-width="0.1" >28</text>
<text x="434.8" y="522" font-size="8" text-anchor="start" font-family="Liberation Serif" fill="#000" stroke="#000" stroke-width="0.3" >1</text>
<text x="306.5" y="531.5" font-size="9" text-anchor="end" font-family="Liberation Serif" fill="#000" stroke="#000" stroke-width="0.3" transform="rotate(-90 306.5 531.5)" >GND</text>
<text x="316.7" y="531.5" font-size="9" text-anchor="end" font-family="Liberation Serif" fill="#000" stroke="#000" stroke-width="0.3" transform="rotate(-90 316.7 531.5)" >IO3</text>
<text x="326.4" y="531.5" font-size="9" text-anchor="end" font-family="Liberation Serif" fill="#000" stroke="#000" stroke-width="0.3" transform="rotate(-90 326.4 531.5)" >IO2</text>
<text x="336.4" y="531.5" font-size="9" text-anchor="end" font-family="Liberation Serif" fill="#000" stroke="#000" stroke-width="0.3" transform="rotate(-90 336.4 531.5)" >IO1</text>
<text x="347.5" y="531.5" font-size="9" text-anchor="end" font-family="Liberation Serif" fill="#000" stroke="#000" stroke-width="0.3" transform="rotate(-90 347.5 531.5)" >A0</text>
<text x="357.8" y="531.5" font-size="9" text-anchor="end" font-family="Liberation Serif" fill="#000" stroke="#000" stroke-width="0.3" transform="rotate(-90 357.8 531.5)" >A1</text>
<text x="367.2" y="531.5" font-size="9" text-anchor="end" font-family="Liberation Serif" fill="#000" stroke="#000" stroke-width="0.3" transform="rotate(-90 367.2 531.5)" >A2</text>
<text x="376.8" y="531.5" font-size="9" text-anchor="end" font-family="Liberation Serif" fill="#000" stroke="#000" stroke-width="0.3" transform="rotate(-90 376.8 531.5)" >A3</text>
<text x="387.1" y="531.5" font-size="9" text-anchor="end" font-family="Liberation Serif" fill="#000" stroke="#000" stroke-width="0.3" transform="rotate(-90 387.1 531.5)" >A4</text>
<text x="396.5" y="531.5" font-size="9" text-anchor="end" font-family="Liberation Serif" fill="#000" stroke="#000" stroke-width="0.3" transform="rotate(-90 396.5 531.5)" >A5</text>
<text x="406.8" y="531.5" font-size="9" text-anchor="end" font-family="Liberation Serif" fill="#000" stroke="#000" stroke-width="0.3" transform="rotate(-90 406.8 531.5)" >A6</text>
<text x="416.4" y="531.5" font-size="9" text-anchor="end" font-family="Liberation Serif" fill="#000" stroke="#000" stroke-width="0.3" transform="rotate(-90 416.4 531.5)" >A7</text>
<text x="426.7" y="531.5" font-size="9" text-anchor="end" font-family="Liberation Serif" fill="#000" stroke="#000" stroke-width="0.3" transform="rotate(-90 426.7 531.5)" >A12</text>
<text x="437" y="531.5" font-size="9" text-anchor="end" font-family="Liberation Serif" fill="#000" stroke="#000" stroke-width="0.3" transform="rotate(-90 437 531.5)" >A14</text>
<text x="307.1" y="577.5" font-size="9.5" text-anchor="start" font-family="Liberation Serif" fill="#000" stroke="#000" stroke-width="0.3" transform="rotate(-90 307.1 577.5)" >IO4</text>
<text x="317" y="577.5" font-size="9.5" text-anchor="start" font-family="Liberation Serif" fill="#000" stroke="#000" stroke-width="0.3" transform="rotate(-90 317 577.5)" >IO5</text>
<text x="326.9" y="577.5" font-size="9.5" text-anchor="start" font-family="Liberation Serif" fill="#000" stroke="#000" stroke-width="0.3" transform="rotate(-90 326.9 577.5)" >IO6</text>
<text x="336.8" y="577.5" font-size="9.5" text-anchor="start" font-family="Liberation Serif" fill="#000" stroke="#000" stroke-width="0.3" transform="rotate(-90 336.8 577.5)" >IO7</text>
<text x="345.5" y="577.5" font-size="9.5" text-anchor="start" font-family="Liberation Serif" fill="#000" stroke="#000" stroke-width="0.3" transform="rotate(-90 345.5 577.5)" >IO8</text>
<text x="355.3" y="577.5" font-size="9.5" text-anchor="start" font-family="Liberation Serif" fill="#000" stroke="#000" stroke-width="0.3" transform="rotate(-90 355.3 577.5)" ><tspan text-decoration="overline">CE</tspan></text>
<text x="365.2" y="577.5" font-size="9.5" text-anchor="start" font-family="Liberation Serif" fill="#000" stroke="#000" stroke-width="0.3" transform="rotate(-90 365.2 577.5)" >A10</text>
<text x="374.9" y="577.5" font-size="9.5" text-anchor="start" font-family="Liberation Serif" fill="#000" stroke="#000" stroke-width="0.3" transform="rotate(-90 374.9 577.5)" ><tspan text-decoration="overline">OE</tspan></text>
<text x="383.9" y="577.5" font-size="9.5" text-anchor="start" font-family="Liberation Serif" fill="#000" stroke="#000" stroke-width="0.3" transform="rotate(-90 383.9 577.5)" >A11</text>
<text x="393.6" y="577.5" font-size="9.5" text-anchor="start" font-family="Liberation Serif" fill="#000" stroke="#000" stroke-width="0.3" transform="rotate(-90 393.6 577.5)" >A9</text>
<text x="402.8" y="577.5" font-size="9.5" text-anchor="start" font-family="Liberation Serif" fill="#000" stroke="#000" stroke-width="0.3" transform="rotate(-90 402.8 577.5)" >A8</text>
<text x="412.9" y="577.5" font-size="9.5" text-anchor="start" font-family="Liberation Serif" fill="#000" stroke="#000" stroke-width="0.3" transform="rotate(-90 412.9 577.5)" >A13</text>
<text x="422.6" y="577.5" font-size="9.5" text-anchor="start" font-family="Liberation Serif" fill="#000" stroke="#000" stroke-width="0.3" transform="rotate(-90 422.6 577.5)" >R/<tspan text-decoration="overline">W</tspan></text>
<text x="432.3" y="577.5" font-size="9.5" text-anchor="start" font-family="Liberation Serif" fill="#000" stroke="#000" stroke-width="0.3" transform="rotate(-90 432.3 577.5)" >V<tspan font-size="5" dy="1">DD</tspan></text>
<text x="356.8" y="555.7" font-size="10" text-anchor="start" font-family="Liberation Serif" fill="#000" stroke="#000" stroke-width="0.1" >62256</text>
<polygon points="567.5,122.2 570.1,122.2 570.1,125.9 566.4,124.9" fill="#000" stroke="none"/>
<g style="mix-blend-mode:multiply" stroke="none" fill="#f4b3b9">
<path d="M545.3,639.2 C545.1,633.6 549.6,633.3 551.2,633.3 C555.2,633.3 557.0,636.0 557.0,639.0 C557.0,643.8 550.0,648.0 545.4,655.0" fill="none" stroke="#f4b3b9" stroke-width="6.6"/>
<rect x="542.0" y="652.0" width="18.2" height="6.4"/>
<rect x="566.0" y="630.2" width="7.7" height="28.2"/>
<polygon points="566.2,630.2 566.2,637.6 561.8,640.2 561.8,634.0"/>
<rect x="577.8" y="630.2" width="7.6" height="28.2"/>
<path d="M604.6,638.0 A5.25,10.85 0 1 0 604.6,650.6" fill="none" stroke="#f4b3b9" stroke-width="6.6"/>
<rect x="603.5" y="634.6" width="4.8" height="4.4"/>
<rect x="603.5" y="649.6" width="4.8" height="4.6"/>
</g>
<g style="mix-blend-mode:multiply" fill="none" stroke="#b6b6dc" stroke-width="1.9">
<rect x="615.2" y="631.0" width="13.6" height="9.8"/>
<line x1="615.2" y1="635.9" x2="628.8" y2="635.9"/>
<path d="M621.9,629.0 V641.3 Q621.9,643.2 623.9,643.2 H629.9 V641.2"/>
<path d="M635.0,630.6 H648.0 L642.0,634.6"/>
<line x1="633.7" y1="637.4" x2="650.2" y2="637.4"/>
<path d="M642.0,634.0 V641.8 Q642.0,643.6 640.0,643.6 H638.4"/>
<path d="M654.1,644.2 V630.6 H668.8 V642.2 Q668.8,643.8 667.0,643.8 H665.2"/>
<path d="M656.4,633.6 L661.0,640.8 M661.0,633.6 L656.4,640.8 M661.9,633.6 L666.3,640.8 M666.3,633.6 L661.9,640.8" stroke-width="1.6"/>
</g>
<text x="608.6" y="657.9" font-family="Liberation Serif" font-style="italic" font-weight="bold" font-size="25" stroke="none" fill="#b6b6dc" textLength="62.5" lengthAdjust="spacingAndGlyphs" style="mix-blend-mode:multiply">.com</text>
</g>
</svg>
</body></html>
